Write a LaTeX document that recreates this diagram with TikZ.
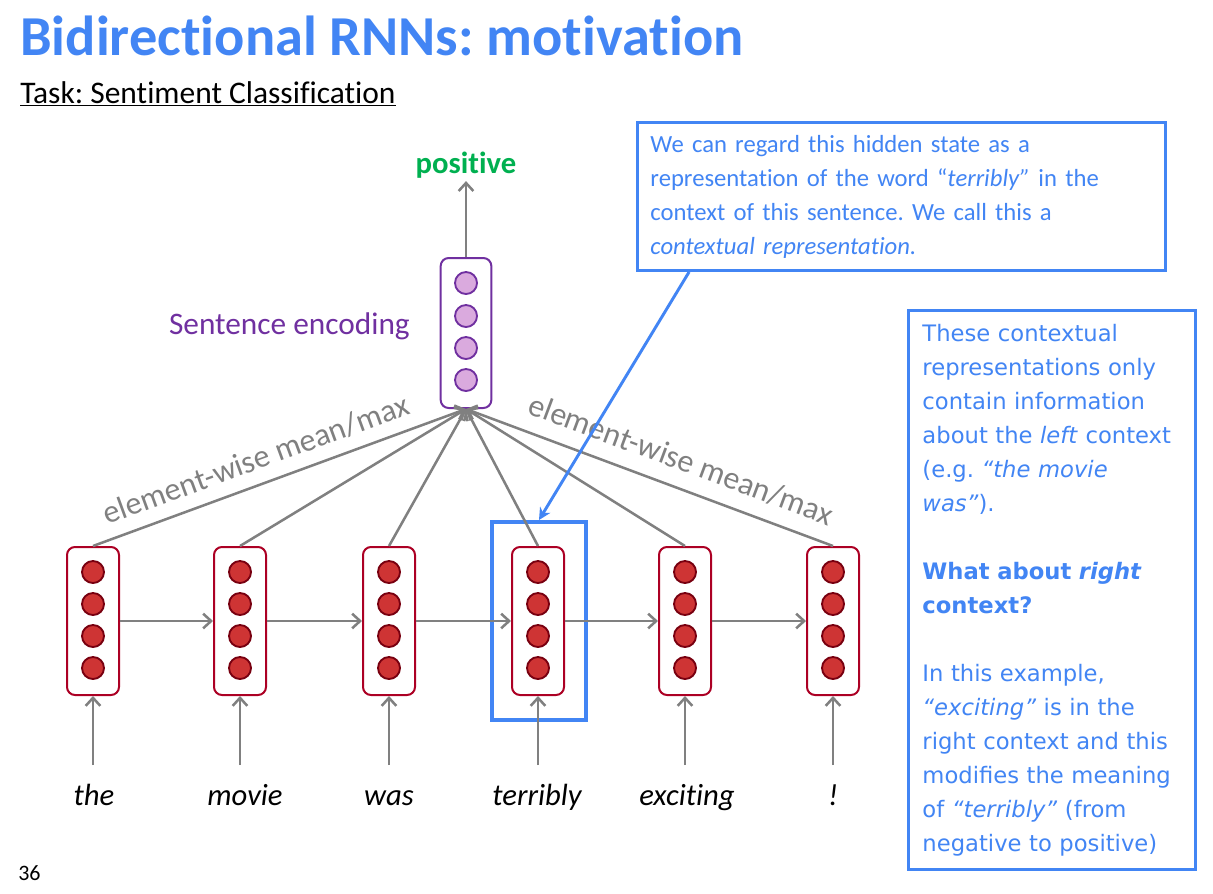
\documentclass[tikz,border=0pt]{standalone}
\usepackage{fontspec}
\setmainfont{Carlito}[Ligatures=NoCommon]
\newfontfamily\verd{DejaVu Sans}
\usetikzlibrary{arrows.meta,calc}
\definecolor{tblue}{RGB}{66,133,244}
\definecolor{cellred}{RGB}{172,0,36}
\definecolor{dotred}{RGB}{206,52,52}
\definecolor{dotborder}{RGB}{120,0,16}
\definecolor{purp}{RGB}{112,48,160}
\definecolor{lpurp}{RGB}{218,170,222}
\definecolor{pgreen}{RGB}{0,176,80}
\definecolor{agray}{RGB}{128,128,128}
\frenchspacing
\begin{document}
\begin{tikzpicture}[x=0.75pt,y=-0.75pt,
  cellbox/.style={draw=cellred, line width=1.5pt, rounded corners=6pt, fill=white,
    minimum width=39pt, minimum height=111pt, inner sep=0pt},
  dot/.style={circle, draw=dotborder, fill=dotred, line width=1.4pt,
    minimum size=16.5pt, inner sep=0pt},
  encbox/.style={draw=purp, line width=1.5pt, rounded corners=6pt, fill=white,
    minimum width=38pt, minimum height=112.5pt, inner sep=0pt},
  edot/.style={circle, draw=purp, fill=lpurp, line width=1.4pt,
    minimum size=16.5pt, inner sep=0pt},
  garrow/.style={draw=agray, line width=1.9pt, -{Straight Barb[length=6pt,width=11pt]}},
  barrow/.style={draw=tblue, line width=2.2pt, -{Stealth[length=9pt,width=9pt]}},
  hlbox/.style={draw=tblue, line width=3pt, minimum width=70.5pt, minimum height=148.5pt, inner sep=0pt},
  word/.style={anchor=base, inner sep=0pt, font=\itshape\fontsize{23}{28}\selectfont},
  lbl/.style={text=agray, font=\fontsize{24}{28}\selectfont, inner sep=2pt},
  callout/.style={draw=tblue, line width=2.2pt, fill=white, text=tblue, align=left, inner ysep=0pt}
]
\useasboundingbox (0,0) rectangle (1213,893);

\node[anchor=base west, inner sep=0pt, text=tblue, font=\bfseries\fontsize{42.3}{46}\selectfont] (title) at (20,55) {Bidirectional RNNs: motivation};
\node[anchor=base west, inner sep=0pt, font=\fontsize{23.6}{28}\selectfont] (task) at (20,103) {\underline{Task: Sentiment Classification}};

% highlight box
\node[hlbox] (hl) at (539,621) {};

% RNN cells
\foreach \i/\x in {1/93,2/240,3/389,4/538,5/685,6/833} {
  \node[cellbox] (c\i) at (\x,621) {};
  \foreach \j/\yy in {1/572,2/604,3/636,4/668}
    \node[dot] (c\i-\j) at (\x,\yy) {};
  \coordinate (in\i) at (\x,765);
  \draw[garrow] (in\i) -- (c\i.south);
}
\foreach \i/\x/\w in {1/94/the,2/245/movie,3/389/was,4/537/terribly,5/687/exciting,6/833/!}
  \node[word] (w\i) at (\x,805) {\w};

\foreach \i/\j in {1/2,2/3,3/4,4/5,5/6}
  \draw[garrow] (c\i.east) -- (c\j.west);

% sentence encoding
\node[encbox] (enc) at (466,333) {};
\foreach \j/\yy in {1/283,2/316,3/348,4/380}
  \node[edot] (e\j) at (466,\yy) {};
\node[anchor=east, inner sep=0pt, text=purp, font=\fontsize{23.5}{28}\selectfont] (senc) at (410,326) {Sentence encoding};
\node[text=pgreen, inner sep=2pt, font=\bfseries\fontsize{23}{28}\selectfont] (pos) at (466,165) {positive};
\draw[garrow] (enc.north) -- (pos.south);

\draw[garrow] (c1.north) -- node[lbl, pos=0.46, sloped, above=7pt] {element-wise mean/max} (enc.south);
\foreach \i in {2,3,4,5}
  \draw[garrow] (c\i.north) -- (enc.south);
\draw[garrow] (c6.north) -- node[lbl, pos=0.44, sloped, above=9pt] {element-wise mean/max} (enc.south);

% callout
\node[callout, anchor=north west, minimum height=111pt, text width=376.5pt, inner xsep=9.75pt,
  font=\fontsize{18.5}{25.5}\selectfont] (cbox) at (636,121)
  {We can regard this hidden state as a\\
   representation of the word “\textit{terribly”} in the\\
   context of this sentence. We call this a\\
   \textit{contextual representation.}};
\coordinate (cs) at ($(cbox.south west)!0.1!(cbox.south east)$);
\draw[barrow] (cs) -- (hl.north);

% right box
\node[callout, anchor=north west, minimum height=419.25pt, text width=194.25pt, inner xsep=10.5pt,
  font=\verd\fontsize{17}{25.5}\selectfont] (rbox) at (907,309)
  {These contextual\\
   representations only\\
   contain information\\
   about the \textit{left} context\\
   (e.g. \textit{“the movie}\\
   \textit{was”}).\\[25.5pt]
   \textbf{What about \textit{right}}\\
   \textbf{context?}\\[25.5pt]
   In this example,\\
   \textit{“exciting”} is in the\\
   right context and this\\
   modifies the meaning\\
   of \textit{“terribly”} (from\\
   negative to positive)};

\node[anchor=base west, inner sep=0pt, font=\fontsize{16.5}{18}\selectfont] (pnum) at (18,880) {36};
\end{tikzpicture}
\end{document}
